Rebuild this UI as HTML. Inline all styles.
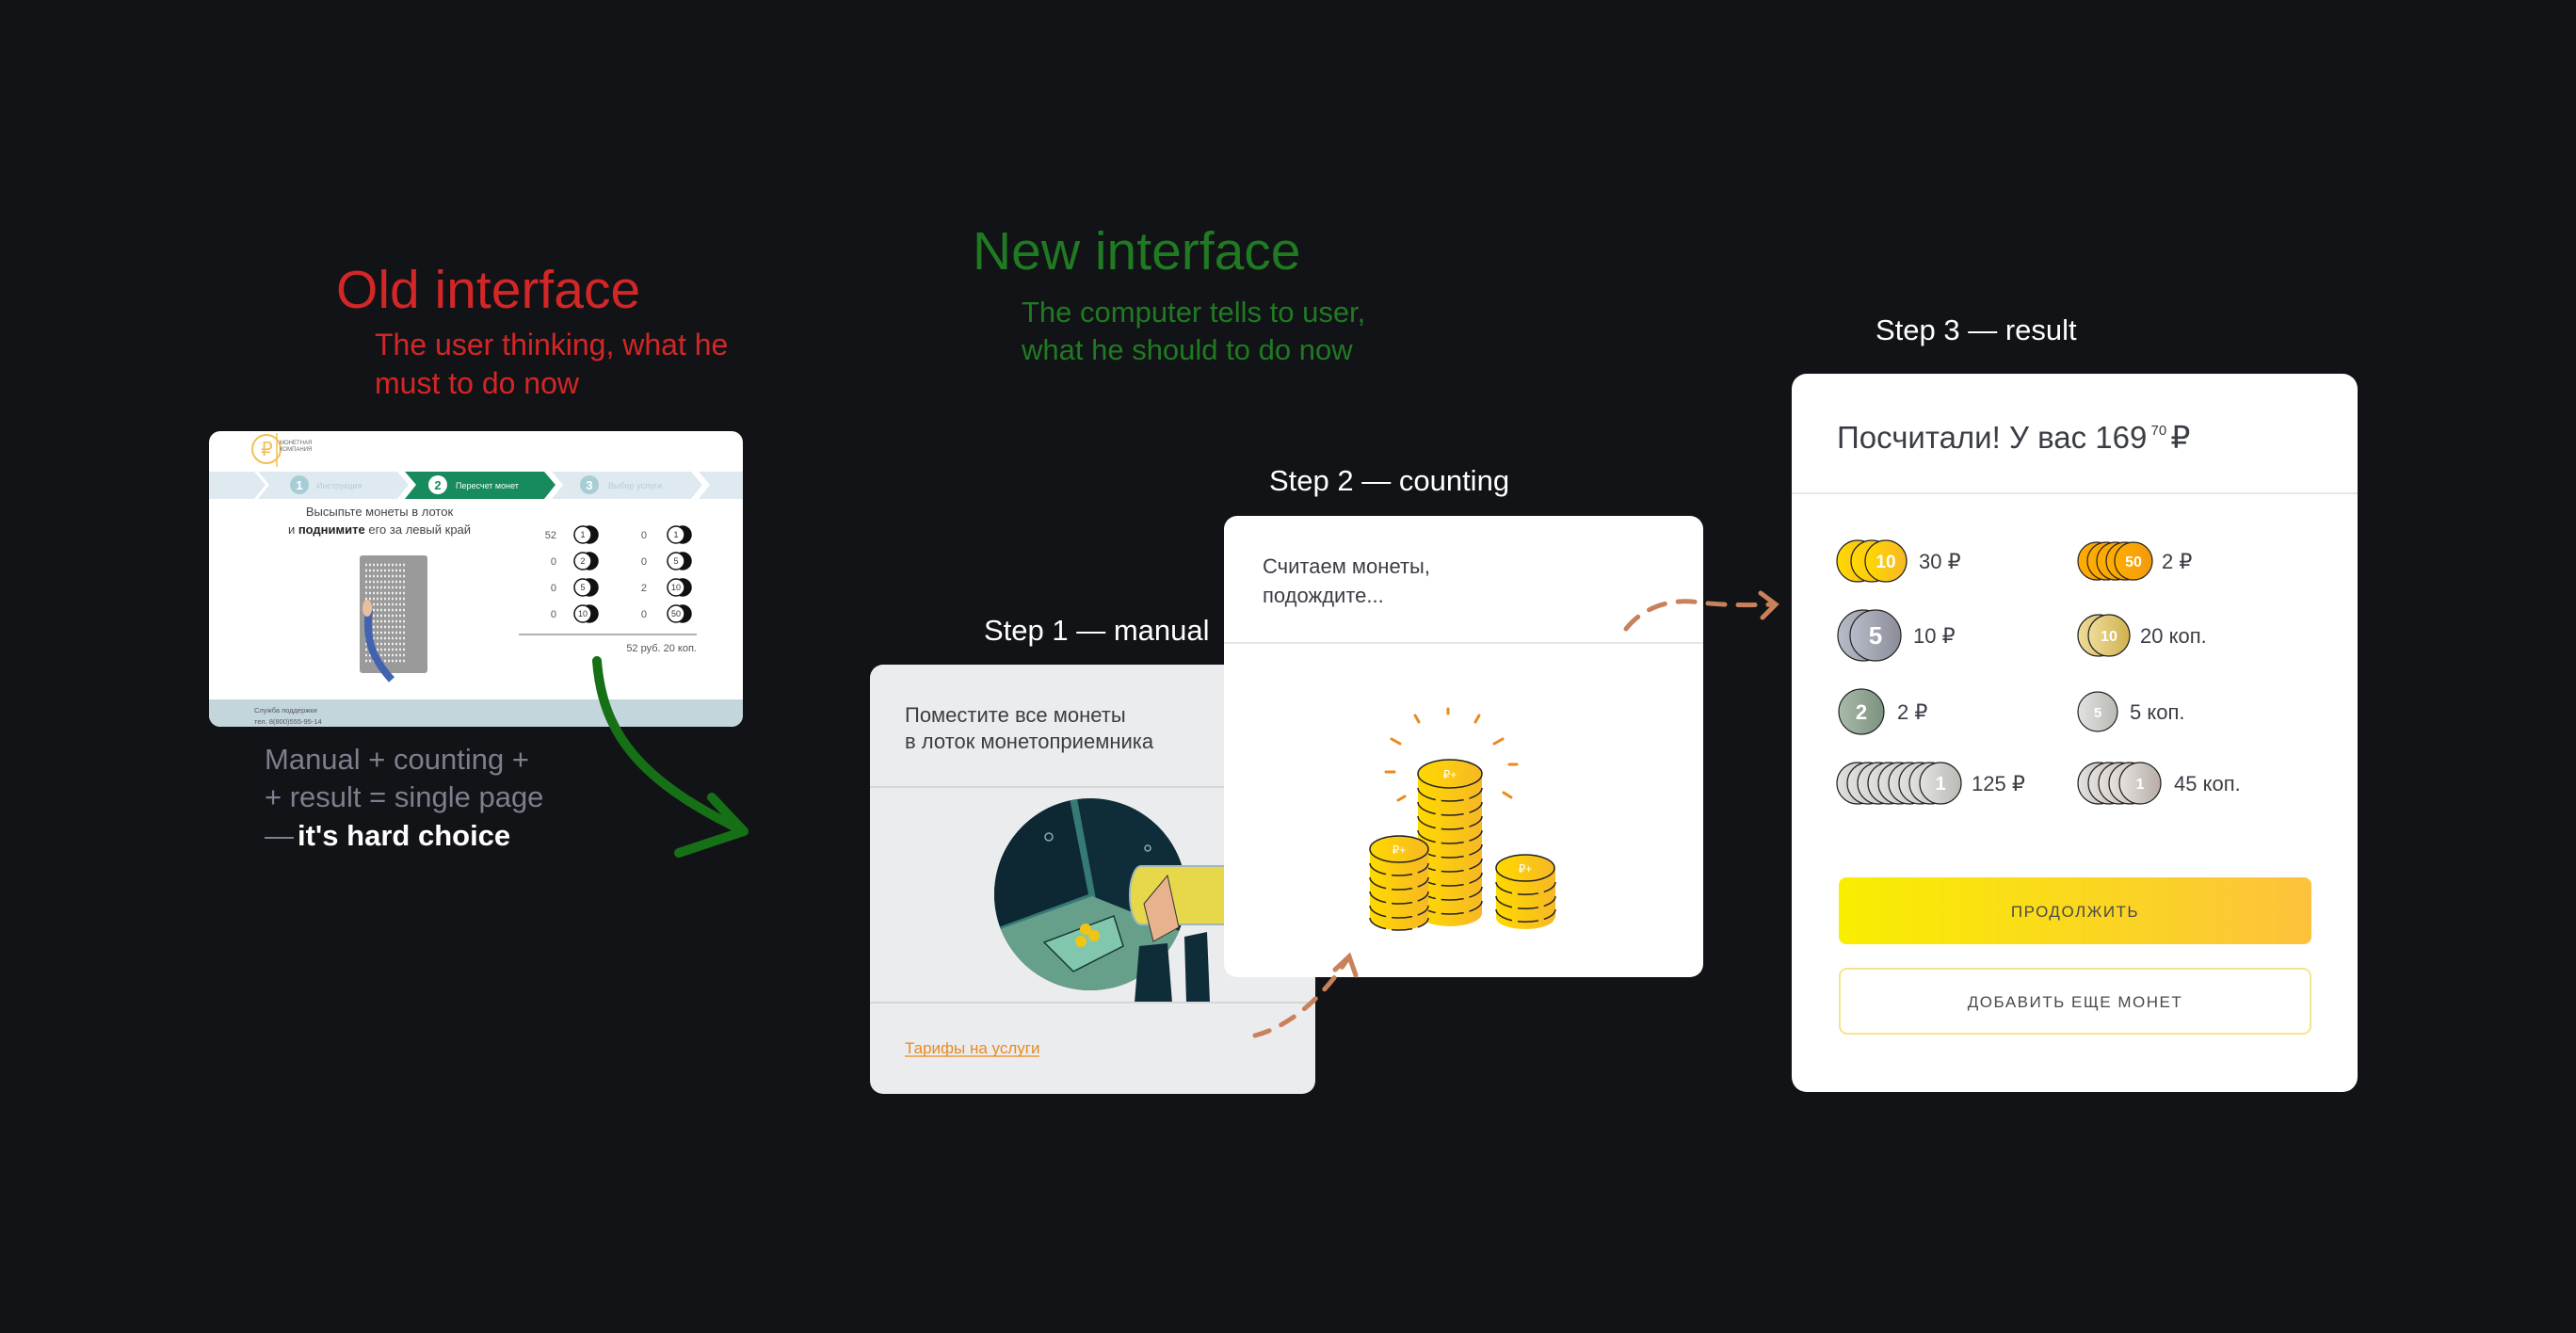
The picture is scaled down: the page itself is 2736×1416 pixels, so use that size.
<!DOCTYPE html>
<html><head><meta charset="utf-8"><style>
html,body{margin:0;padding:0;background:#121317;}
svg{display:block}
text{font-family:"Liberation Sans","DejaVu Sans",sans-serif;}
</style></head><body>
<svg width="2736" height="1416" viewBox="0 0 2736 1416" xmlns="http://www.w3.org/2000/svg">
<defs>
<linearGradient id="gold" x1="0" x2="1"><stop offset="0" stop-color="#ffd900"/><stop offset="1" stop-color="#f7b825"/></linearGradient>
<linearGradient id="btn" x1="0" x2="1"><stop offset="0" stop-color="#f9ee00"/><stop offset="1" stop-color="#fcc23c"/></linearGradient>
<linearGradient id="silv" x1="0" x2="1"><stop offset="0" stop-color="#b8bcc8"/><stop offset="1" stop-color="#8a8d98"/></linearGradient>
<linearGradient id="grn" x1="0" x2="1"><stop offset="0" stop-color="#a9baa8"/><stop offset="1" stop-color="#7c9180"/></linearGradient>
<linearGradient id="wsil" x1="0" x2="1"><stop offset="0" stop-color="#e2e2e2"/><stop offset="1" stop-color="#b9b9b4"/></linearGradient>
<linearGradient id="org" x1="0" x2="1"><stop offset="0" stop-color="#ffae00"/><stop offset="1" stop-color="#f39a0a"/></linearGradient>
<linearGradient id="beige" x1="0" x2="1"><stop offset="0" stop-color="#eedc9a"/><stop offset="1" stop-color="#cfb14e"/></linearGradient>
<linearGradient id="rose" x1="0" x2="1"><stop offset="0" stop-color="#e6e3e0"/><stop offset="1" stop-color="#b7aba6"/></linearGradient>
<clipPath id="circ"><circle cx="1158" cy="950" r="102"/></clipPath>
<clipPath id="c1"><rect x="924" y="836" width="376" height="229"/></clipPath>
</defs>

<!-- Headings -->
<text x="357" y="327" font-size="57" fill="#d32626">Old interface</text>
<text x="398" y="377" font-size="32" fill="#d32626">The user thinking, what he</text>
<text x="398" y="418" font-size="32" fill="#d32626">must to do now</text>

<text x="1033" y="286" font-size="57" fill="#1f7a22">New interface</text>
<text x="1085" y="342" font-size="31" fill="#1f7a22">The computer tells to user,</text>
<text x="1085" y="382" font-size="31" fill="#1f7a22">what he should to do now</text>

<text x="281" y="817" font-size="31" fill="#7c7f8c">Manual + counting +</text>
<text x="281" y="857" font-size="31" fill="#7c7f8c">+ result = single page</text>
<text x="281" y="898" font-size="31" fill="#7c7f8c">—</text>
<text x="316" y="898" font-size="31" fill="#ffffff" font-weight="bold">it's hard choice</text>

<text x="1045" y="680" font-size="31" fill="#ffffff">Step 1 — manual</text>
<text x="1348" y="521" font-size="31" fill="#ffffff">Step 2 — counting</text>
<text x="1992" y="361" font-size="31" fill="#ffffff">Step 3 — result</text>

<!-- Old card -->
<rect x="222" y="458" width="567" height="314" rx="12" fill="#ffffff"/>
<path d="M222 743 H789 V760 a12 12 0 0 1 -12 12 H234 a12 12 0 0 1 -12 -12 Z" fill="#c3d6db"/>
<circle cx="283" cy="477" r="15" fill="none" stroke="#f2bf55" stroke-width="2"/>
<text x="277" y="484" font-size="20" fill="#f2bf55">₽</text>
<line x1="294" y1="460" x2="294" y2="496" stroke="#f2bf55" stroke-width="1.5"/>
<text x="297" y="472" font-size="6" fill="#666">МОНЕТНАЯ</text>
<text x="297" y="479" font-size="6" fill="#666">КОМПАНИЯ</text>
<path d="M222 501 H270 L282 515 L270 530 H222 Z" fill="#dfeaf0"/>
<path d="M274 501 H422 L434 515 L422 530 H274 L286 515 Z" fill="#dfeaf0"/>
<path d="M430 501 H578 L590 515 L578 530 H430 L442 515 Z" fill="#178a5e"/>
<path d="M586 501 H734 L746 515 L734 530 H586 L598 515 Z" fill="#dfeaf0"/>
<path d="M742 501 H789 V530 H742 L754 515 Z" fill="#dfeaf0"/>
<circle cx="318" cy="515" r="10" fill="#a9cdd6"/><text x="318" y="520" font-size="13" fill="#fff" text-anchor="middle" font-weight="bold">1</text>
<text x="336" y="519" font-size="9" fill="#b7ccd3">Инструкция</text>
<circle cx="465" cy="515" r="10" fill="#fff"/><text x="465" y="520" font-size="13" fill="#178a5e" text-anchor="middle" font-weight="bold">2</text>
<text x="484" y="519" font-size="9" fill="#fff">Пересчет монет</text>
<circle cx="626" cy="515" r="10" fill="#a9cdd6"/><text x="626" y="520" font-size="13" fill="#fff" text-anchor="middle" font-weight="bold">3</text>
<text x="646" y="519" font-size="9" fill="#b7ccd3">Выбор услуги</text>
<text x="403" y="548" font-size="13" fill="#444" text-anchor="middle">Высыпьте монеты в лоток</text>
<text x="403" y="567" font-size="13" fill="#444" text-anchor="middle">и <tspan font-weight="bold" fill="#222">поднимите</tspan> его за левый край</text>
<rect x="382" y="590" width="72" height="125" rx="3" fill="#9a9a9a"/>
<path d="M388 600 h44 M388 606 h44 M388 612 h44 M388 618 h44 M388 624 h44 M388 630 h44 M388 636 h44 M388 642 h44 M388 648 h44 M388 654 h44 M388 660 h44 M388 666 h44 M388 672 h44 M388 678 h44 M388 684 h44 M388 690 h44 M388 696 h44 M388 702 h44" stroke="#eee" stroke-width="2.5" stroke-dasharray="2 2"/>
<path d="M392 648 C388 680 396 700 416 722" stroke="#4363b0" stroke-width="8" fill="none"/>
<ellipse cx="390" cy="646" rx="5" ry="9" fill="#e8c0a0"/>
<g font-size="11" fill="#555" text-anchor="end">
<text x="591" y="572">52</text><text x="591" y="600">0</text><text x="591" y="628">0</text><text x="591" y="656">0</text>
<text x="687" y="572">0</text><text x="687" y="600">0</text><text x="687" y="628">2</text><text x="687" y="656">0</text>
</g>
<g stroke="#111" stroke-width="1.5">
<circle cx="626" cy="568" r="9" fill="#111"/><circle cx="619" cy="568" r="9" fill="#fff"/>
<circle cx="626" cy="596" r="9" fill="#111"/><circle cx="619" cy="596" r="9" fill="#fff"/>
<circle cx="626" cy="624" r="9" fill="#111"/><circle cx="619" cy="624" r="9" fill="#fff"/>
<circle cx="626" cy="652" r="9" fill="#111"/><circle cx="619" cy="652" r="9" fill="#fff"/>
<circle cx="725" cy="568" r="9" fill="#111"/><circle cx="718" cy="568" r="9" fill="#fff"/>
<circle cx="725" cy="596" r="9" fill="#111"/><circle cx="718" cy="596" r="9" fill="#fff"/>
<circle cx="725" cy="624" r="9" fill="#111"/><circle cx="718" cy="624" r="9" fill="#fff"/>
<circle cx="725" cy="652" r="9" fill="#111"/><circle cx="718" cy="652" r="9" fill="#fff"/>
</g>
<g font-size="9" fill="#333" text-anchor="middle">
<text x="619" y="571">1</text><text x="619" y="599">2</text><text x="619" y="627">5</text><text x="619" y="655">10</text>
<text x="718" y="571">1</text><text x="718" y="599">5</text><text x="718" y="627">10</text><text x="718" y="655">50</text>
</g>
<line x1="551" y1="674" x2="740" y2="674" stroke="#999" stroke-width="1.5"/>
<text x="740" y="692" font-size="11" fill="#555" text-anchor="end">52 руб. 20 коп.</text>
<text x="270" y="757" font-size="7.5" fill="#556">Служба поддержки</text>
<text x="270" y="769" font-size="7.5" fill="#556">тел. 8(800)555-95-14</text>

<!-- Green arrow -->
<path d="M634 702 C640 780 680 830 790 883" stroke="#167016" stroke-width="10" fill="none" stroke-linecap="round"/>
<path d="M756 847 L790 883 L721 906" stroke="#167016" stroke-width="10" fill="none" stroke-linecap="round" stroke-linejoin="round"/>

<!-- Step 1 card -->
<rect x="924" y="706" width="473" height="456" rx="14" fill="#ebeced"/>
<text x="961" y="767" font-size="22" fill="#3b3d45">Поместите все монеты</text>
<text x="961" y="795" font-size="22" fill="#3b3d45">в лоток монетоприемника</text>
<line x1="924" y1="836" x2="1397" y2="836" stroke="#d4d6d8" stroke-width="2"/>
<g clip-path="url(#circ)">
<rect x="1040" y="840" width="240" height="230" fill="#0f2d38"/>
<path d="M1040 840 H1140 L1160 952 L1060 990 L1040 995 Z" fill="#0d2833"/>
<path d="M1136 848 L1144 848 L1164 955 L1060 995 L1055 987 L1156 950 Z" fill="#357a74"/>
<path d="M1160 952 L1040 995 V1080 H1280 V1000 Z" fill="#66a08a"/>
<path d="M1109 1001 L1183 973 L1193 1005 L1140 1032 Z" fill="#81c7ad" stroke="#183a35" stroke-width="1.5"/>
<circle cx="1153" cy="987" r="6" fill="#f1c413"/><circle cx="1162" cy="994" r="6" fill="#f1c413"/><circle cx="1148" cy="1000" r="6" fill="#f1c413"/>
</g>
<circle cx="1114" cy="889" r="4" fill="none" stroke="#8aa" stroke-width="1.5"/>
<circle cx="1219" cy="901" r="3" fill="none" stroke="#8aa" stroke-width="1.5"/>
<g clip-path="url(#c1)">
<path d="M1212 920 h90 v62 h-90 a12 31 0 0 1 0 -62 Z" fill="#e6d84a" stroke="#9fb8b8" stroke-width="2"/>
<path d="M1240 930 L1252 985 L1225 1000 L1215 960 Z" fill="#e8b38c" stroke="#333" stroke-width="1"/>
<path d="M1210 1005 L1240 1002 L1245 1065 L1205 1065 Z" fill="#0f2d38"/>
<path d="M1258 995 L1282 990 L1285 1065 L1260 1065 Z" fill="#0f2d38"/>
</g>
<line x1="924" y1="1065" x2="1397" y2="1065" stroke="#d4d6d8" stroke-width="2"/>
<text x="961" y="1119" font-size="17" fill="#ea8a1e">Тарифы на услуги</text>
<line x1="961" y1="1122" x2="1104" y2="1122" stroke="#ea8a1e" stroke-width="1.2"/>

<!-- Step 2 card -->
<rect x="1300" y="548" width="509" height="490" rx="14" fill="#ffffff"/>
<text x="1341" y="609" font-size="22" fill="#3b3d45">Считаем монеты,</text>
<text x="1341" y="640" font-size="22" fill="#3b3d45">подождите...</text>
<line x1="1300" y1="683" x2="1809" y2="683" stroke="#e6e7e9" stroke-width="2"/>
<g stroke="#ea8a1e" stroke-width="3" stroke-linecap="round">
<line x1="1538" y1="753" x2="1538" y2="758"/><line x1="1503" y1="760" x2="1507" y2="767"/><line x1="1571" y1="760" x2="1567" y2="767"/>
<line x1="1478" y1="785" x2="1487" y2="790"/><line x1="1596" y1="785" x2="1587" y2="790"/>
<line x1="1472" y1="820" x2="1481" y2="820"/><line x1="1603" y1="812" x2="1611" y2="812"/>
<line x1="1485" y1="850" x2="1492" y2="846"/><line x1="1597" y1="842" x2="1605" y2="847"/>
</g>
<g>
<rect x="1506" y="822" width="68" height="148" fill="url(#gold)"/>
<ellipse cx="1540" cy="970" rx="34" ry="14" fill="url(#gold)"/>
<path d="M1506 837 a34 14 0 0 0 68 0 M1506 852 a34 14 0 0 0 68 0 M1506 867 a34 14 0 0 0 68 0 M1506 882 a34 14 0 0 0 68 0 M1506 897 a34 14 0 0 0 68 0 M1506 912 a34 14 0 0 0 68 0 M1506 927 a34 14 0 0 0 68 0 M1506 942 a34 14 0 0 0 68 0 M1506 957 a34 14 0 0 0 68 0" stroke="#222" stroke-width="1.5" fill="none" stroke-dasharray="24 6"/>
<ellipse cx="1540" cy="822" rx="34" ry="15" fill="url(#gold)" stroke="#222" stroke-width="1.5"/>
<text x="1540" y="827" font-size="12" fill="#fff" text-anchor="middle">₽+</text>
<rect x="1455" y="902" width="62" height="73" fill="url(#gold)"/>
<ellipse cx="1486" cy="975" rx="31" ry="13" fill="url(#gold)"/>
<path d="M1455 917 a31 13 0 0 0 62 0 M1455 932 a31 13 0 0 0 62 0 M1455 947 a31 13 0 0 0 62 0 M1455 962 a31 13 0 0 0 62 0 M1455 975 a31 13 0 0 0 62 0" stroke="#222" stroke-width="1.5" fill="none" stroke-dasharray="22 6"/>
<ellipse cx="1486" cy="902" rx="31" ry="14" fill="url(#gold)" stroke="#222" stroke-width="1.5"/>
<text x="1486" y="907" font-size="12" fill="#fff" text-anchor="middle">₽+</text>
<rect x="1589" y="922" width="63" height="53" fill="url(#gold)"/>
<ellipse cx="1620" cy="975" rx="31" ry="12" fill="url(#gold)"/>
<path d="M1589 937 a31 13 0 0 0 63 0 M1589 952 a31 13 0 0 0 63 0 M1589 966 a31 13 0 0 0 63 0" stroke="#222" stroke-width="1.5" fill="none" stroke-dasharray="22 6"/>
<ellipse cx="1620" cy="922" rx="31" ry="14" fill="url(#gold)" stroke="#222" stroke-width="1.5"/>
<text x="1620" y="927" font-size="12" fill="#fff" text-anchor="middle">₽+</text>
</g>

<!-- Dashed arrows -->
<g stroke="#c8815a" stroke-width="5" fill="none" stroke-linecap="round">
<path d="M1333 1100 C1370 1090 1405 1060 1433 1016" stroke-dasharray="16 14"/>
<path d="M1418 1030 L1433 1016 L1440 1036"/>
<path d="M1727 668 C1745 645 1775 635 1805 640 C1830 643 1860 643 1885 642" stroke-dasharray="18 14"/>
<path d="M1870 630 L1886 642 L1872 656"/>
</g>

<!-- Step 3 card -->
<rect x="1903" y="397" width="601" height="763" rx="16" fill="#ffffff"/>
<text x="1951" y="476" font-size="33" fill="#3b3d45">Посчитали! У вас 169<tspan font-size="15" dy="-14"> 70 </tspan><tspan dy="14">₽</tspan></text>
<line x1="1903" y1="524" x2="2504" y2="524" stroke="#e6e7e9" stroke-width="2"/>
<g stroke="#222" stroke-width="1.2">
<circle cx="1973" cy="596" r="22" fill="url(#gold)"/><circle cx="1988" cy="596" r="22" fill="url(#gold)"/><circle cx="2003" cy="596" r="22" fill="url(#gold)"/>
<circle cx="1979" cy="675" r="27" fill="url(#silv)"/><circle cx="1992" cy="675" r="27" fill="url(#silv)"/>
<circle cx="1977" cy="756" r="24" fill="url(#grn)"/>
<circle cx="1973" cy="832" r="22" fill="url(#wsil)"/><circle cx="1984" cy="832" r="22" fill="url(#wsil)"/><circle cx="1995" cy="832" r="22" fill="url(#wsil)"/><circle cx="2006" cy="832" r="22" fill="url(#wsil)"/><circle cx="2017" cy="832" r="22" fill="url(#wsil)"/><circle cx="2028" cy="832" r="22" fill="url(#wsil)"/><circle cx="2039" cy="832" r="22" fill="url(#wsil)"/><circle cx="2050" cy="832" r="22" fill="url(#wsil)"/><circle cx="2061" cy="832" r="22" fill="url(#wsil)"/>
<circle cx="2227" cy="596" r="20" fill="url(#org)"/><circle cx="2237" cy="596" r="20" fill="url(#org)"/><circle cx="2247" cy="596" r="20" fill="url(#org)"/><circle cx="2257" cy="596" r="20" fill="url(#org)"/><circle cx="2266" cy="596" r="20" fill="url(#org)"/>
<circle cx="2229" cy="675" r="22" fill="url(#beige)"/><circle cx="2240" cy="675" r="22" fill="url(#beige)"/>
<circle cx="2228" cy="756" r="21" fill="url(#wsil)"/>
<circle cx="2229" cy="832" r="22" fill="url(#rose)"/><circle cx="2240" cy="832" r="22" fill="url(#rose)"/><circle cx="2251" cy="832" r="22" fill="url(#rose)"/><circle cx="2262" cy="832" r="22" fill="url(#rose)"/><circle cx="2273" cy="832" r="22" fill="url(#rose)"/>
</g>
<g fill="#fff" font-weight="bold" text-anchor="middle">
<text x="2003" y="603" font-size="19">10</text>
<text x="1992" y="684" font-size="26">5</text>
<text x="1977" y="764" font-size="22">2</text>
<text x="2061" y="839" font-size="20">1</text>
<text x="2266" y="602" font-size="16">50</text>
<text x="2240" y="681" font-size="16">10</text>
<text x="2228" y="762" font-size="15">5</text>
<text x="2273" y="838" font-size="16">1</text>
</g>
<g font-size="22" fill="#3b3d45">
<text x="2038" y="604">30 ₽</text>
<text x="2032" y="683">10 ₽</text>
<text x="2015" y="764">2 ₽</text>
<text x="2094" y="840">125 ₽</text>
<text x="2296" y="604">2 ₽</text>
<text x="2273" y="683">20 коп.</text>
<text x="2262" y="764">5 коп.</text>
<text x="2309" y="840">45 коп.</text>
</g>
<rect x="1953" y="932" width="502" height="71" rx="8" fill="url(#btn)"/>
<text x="2204" y="974" font-size="17" fill="#4a4a4a" text-anchor="middle" letter-spacing="1.5">ПРОДОЛЖИТЬ</text>
<rect x="1954" y="1029" width="500" height="69" rx="8" fill="#fff" stroke="#f6e48a" stroke-width="2"/>
<text x="2204" y="1070" font-size="17" fill="#4a4a4a" text-anchor="middle" letter-spacing="1.5">ДОБАВИТЬ ЕЩЕ МОНЕТ</text>
</svg>
</body></html>
